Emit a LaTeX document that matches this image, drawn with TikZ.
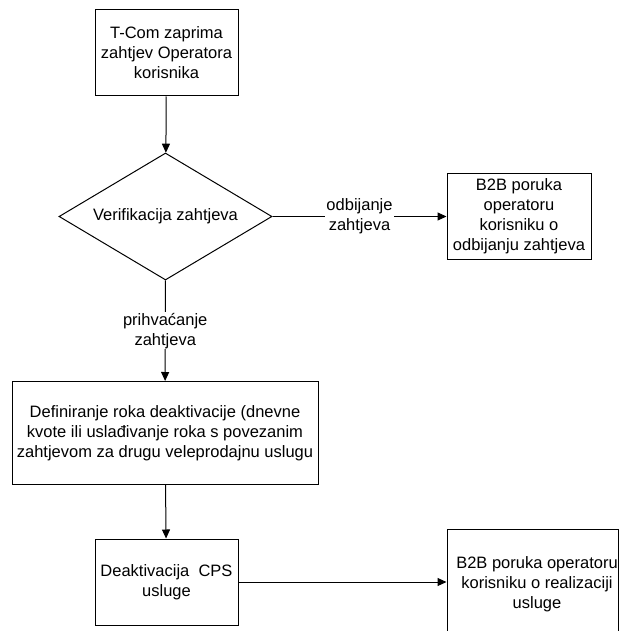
\documentclass[tikz,border=0pt]{standalone}
\usepackage{fontspec}
\setmainfont{Liberation Sans}
\usetikzlibrary{positioning}
\usetikzlibrary{shapes.geometric}
\usetikzlibrary{arrows.meta}

\tikzset{
	korak/.style={rectangle, draw, line width=1pt, align=center, inner sep=0pt, font=\fontsize{16.5}{20}\selectfont},
	odluka/.style={diamond, draw, line width=1pt, align=center, inner sep=0pt, aspect=1.68, font=\fontsize{16.5}{20}\selectfont},
	tok/.style={line width=1pt, -{Triangle[length=9pt,width=8pt]}},
	oznaka/.style={fill=white, align=center, inner sep=1pt, font=\fontsize{16.5}{20}\selectfont}
}

\begin{document}
\begin{tikzpicture}[x=1pt, y=-1pt]
	\clip (0,0) rectangle (619,631);
	\node[korak, minimum width=143pt, minimum height=86pt] (zahtjev) at (166.5,53) {T-Com zaprima\\zahtjev Operatora\\korisnika};
	\node[odluka, minimum width=213pt, minimum height=127pt] (verif) at (165.5,216.5) {Verifikacija zahtjeva};
	\node[korak, minimum width=144pt, minimum height=85pt] (odbij) at (519,216.5) {B2B poruka\\operatoru\\korisniku o\\odbijanju zahtjeva};
	\node[korak, minimum width=306pt, minimum height=103pt] (rok) at (165,433) {Definiranje roka deaktivacije (dnevne\\kvote ili usla\dj ivanje roka s povezanim\\zahtjevom za drugu veleprodajnu uslugu};
	\node[korak, minimum width=143pt, minimum height=86pt] (deakt) at (166.5,582) {Deaktivacija~~CPS\\usluge};
	\node[korak, minimum width=171pt, minimum height=110pt] (realiz) at (532.5,584) {\hspace*{9pt}B2B poruka operatoru\\\hspace*{9pt}korisniku o realizaciji\\\hspace*{9pt}usluge};
	
	\draw[tok] (zahtjev) -- (verif);
	\draw[tok] (verif) -- (odbij) node[midway, oznaka] {odbijanje\\zahtjeva};
	\draw[tok] (verif) -- (rok) node[midway, oznaka] {prihva\'canje\\zahtjeva};
	\draw[tok] (rok) -- (deakt);
	\draw[tok] (deakt) -- (realiz.west |- deakt);
\end{tikzpicture}
\end{document}
